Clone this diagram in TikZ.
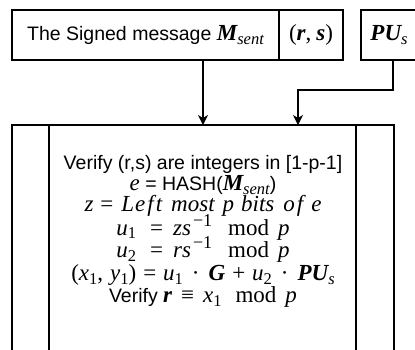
\documentclass[tikz,border=0pt]{standalone}
\usepackage{fontspec}
\setmainfont{Liberation Sans}
\newfontfamily\tms{Liberation Serif}
\usetikzlibrary{arrows.meta}

% serif "math" pieces: italic, bold italic, upright, sub- and superscripts
\newcommand\mi[1]{{\tms\fontsize{23}{26}\selectfont\itshape #1}}
\newcommand\mbi[1]{{\tms\fontsize{23}{26}\selectfont\bfseries\itshape #1}}
\newcommand\mup[1]{{\tms\fontsize{23}{26}\selectfont #1}}
\newcommand\sbs[1]{\raisebox{-3.5pt}{\tms\fontsize{16.5}{18}\selectfont #1}}
\newcommand\sbi[1]{\raisebox{-3.5pt}{\tms\fontsize{16.5}{18}\selectfont\itshape #1}}
\newcommand\sps[1]{\raisebox{9pt}{\tms\fontsize{18}{20}\selectfont #1}}
\newcommand\gap[1]{\hspace{#1pt}}

\tikzset{
  box/.style={draw, rectangle, inner sep=0pt, outer sep=0pt, anchor=north west},
  txt/.style={inner sep=0pt, anchor=base, text height=15pt, text depth=4pt,
    font=\fontsize{19.5}{22}\selectfont},
  arr/.style={-{Stealth[length=10pt,width=10pt,inset=3pt]}},
}

\begin{document}
\begin{tikzpicture}[x=1pt, y=-1pt, line width=1.3pt]
\useasboundingbox (0,0) rectangle (415,349);
\clip (0,0) rectangle (415,349);

% input boxes
\node[box, minimum width=267pt, minimum height=50pt, font=\fontsize{19.5}{22}\selectfont] (msg) at (12,10)
  {The Signed message \mbi{M}\sbi{sent}};
\node[box, minimum width=64pt, minimum height=50pt, font=\fontsize{19.5}{22}\selectfont] (rs) at (279,10)
  {\mup{(}\mbi{r}\mup{,}\gap{5}\mbi{s}\mup{)}};
\node[box, minimum width=64pt, minimum height=50pt, font=\fontsize{19.5}{22}\selectfont] (pu) at (361,10)
  {\gap{-8}\mbi{PU}\sbi{s}};

% verification block
\node[box, minimum width=382pt, minimum height=240pt] (verify) at (12,125) {};
\draw ([xshift=37pt]verify.north west) -- ([xshift=37pt]verify.south west);
\draw ([xshift=-38pt]verify.north east) -- ([xshift=-38pt]verify.south east);

% verification steps
\node[txt] (l1) at (203,169) {Verify (r,s) are integers in [1-p-1]};
\node[txt] (l2) at (203,190.5) {\mi{e} = HASH(\mbi{M}\sbi{sent})};
\node[txt] (l3) at (203,211)
  {\mi{z}\gap{7}\mup{=}\gap{8}\mi{L\gap{1}e\gap{2}f\gap{2}t}\gap{9}\mi{most}\gap{8}\mi{p}\gap{7}\mi{bits}\gap{9}\mi{o\gap{2}f}\gap{8}\mi{e}};
\node[txt] (l4) at (203,235)
  {\mi{u}\sbs{1}\gap{14}\mup{=}\gap{10}\mi{zs}\gap{2}\sps{−1}\gap{16}\mup{mod}\gap{9}\mi{p}};
\node[txt] (l5) at (203,257.5)
  {\mi{u}\sbs{2}\gap{14}\mup{=}\gap{10}\mi{rs}\gap{2}\sps{−1}\gap{16}\mup{mod}\gap{9}\mi{p}};
\node[txt] (l6) at (203,280.5)
  {\mup{(}\mi{x}\sbs{1}\mup{,}\gap{7}\mi{y}\sbs{1}\mup{)}\gap{7}\mup{=}\gap{7}\mi{u}\sbs{1}\gap{9}\mup{·}\gap{9}\mbi{G}\gap{7}\mup{+}\gap{7}\mi{u}\sbs{2}\gap{9}\mup{·}\gap{9}\mbi{PU}\sbi{s}};
\node[txt] (l7) at (203,302.5)
  {Verify \mbi{r}\gap{9}\mup{≡}\gap{9}\mi{x}\sbs{1}\gap{14}\mup{mod}\gap{9}\mi{p}};

% connectors
\coordinate (bend) at (298,90);
\draw[arr] (verify.north |- msg.south) -- (verify.north);
\draw[arr] (pu.south) |- (bend) -- (bend |- verify.north);
\end{tikzpicture}
\end{document}
